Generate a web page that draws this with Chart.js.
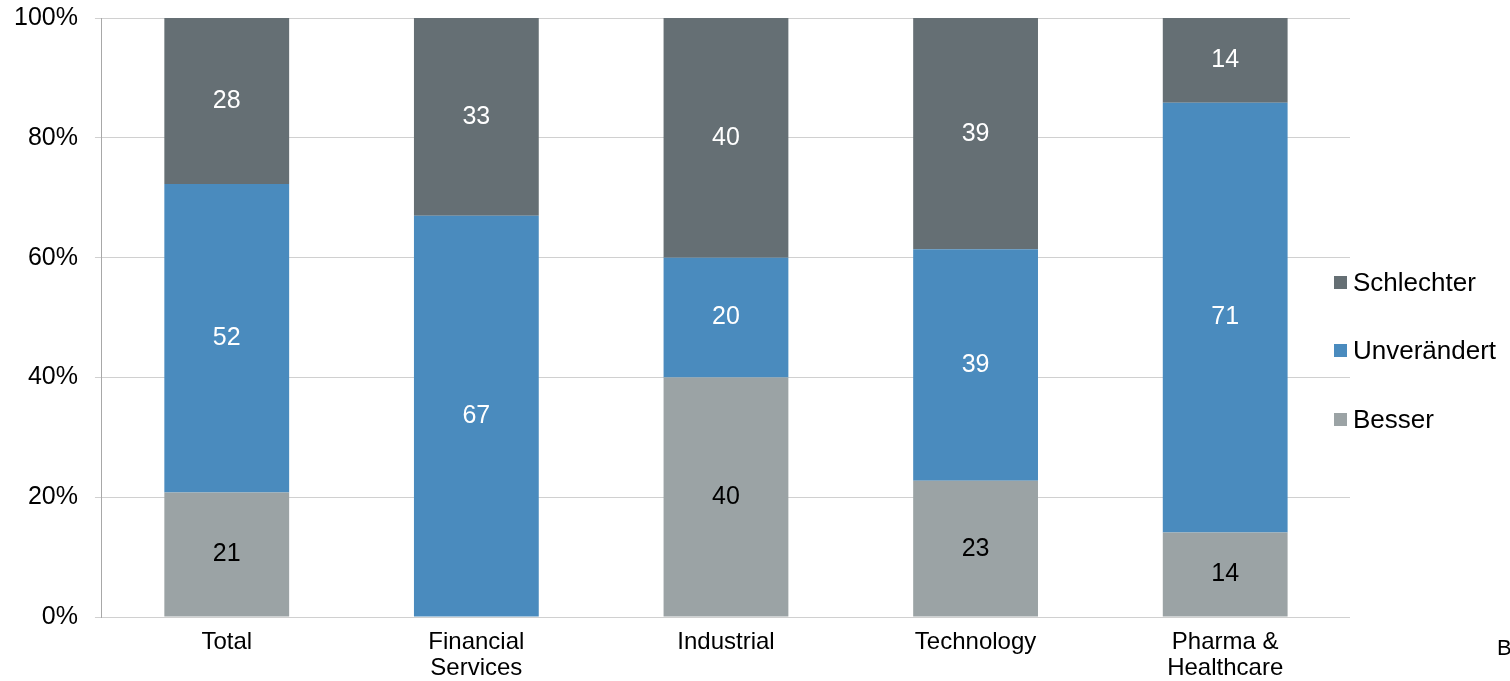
<!DOCTYPE html>
<html>
<head>
<meta charset="utf-8">
<script src="https://cdn.jsdelivr.net/npm/chart.js@4/dist/chart.umd.min.js"></script>
<style>
  html, body { margin: 0; padding: 0; background: #fff; overflow: hidden; }
  #wrap { position: relative; width: 1510px; height: 681px; overflow: hidden; font-family: "Liberation Sans", Arial, sans-serif; }
  #legend { position: absolute; left: 1334px; top: 266px; }
  .item { display: flex; align-items: center; height: 32px; margin-bottom: 36.5px; font-size: 26px; color: #000; }
  .box { width: 13px; height: 13px; margin-right: 6px; }
  #note { position: absolute; left: 1497px; top: 635px; font-size: 22px; color: #000; white-space: nowrap; }
</style>
</head>
<body>
<div id="wrap">
  <canvas id="chart" width="1510" height="681"></canvas>
  <div id="legend"></div>
  <div id="note">B</div>
</div>
<script>
const categories = ['Total', ['Financial', 'Services'], 'Industrial', 'Technology', ['Pharma &', 'Healthcare']];
const besser = [21, 0, 40, 23, 14];
const unveraendert = [52, 67, 20, 39, 71];
const schlechter = [28, 33, 40, 39, 14];
const yTicks = [0, 20, 40, 60, 80, 100];

const colors = { besser: '#9ba3a5', unv: '#4a8bbe', schl: '#656f74' };
const fontFamily = '"Liberation Sans", Arial, sans-serif';

// 100% stacked: share of each answer per category
const totals = besser.map((b, i) => b + unveraendert[i] + schlechter[i]);
const share = arr => arr.map((v, i) => v / totals[i] * 100);

const barLabels = {
  id: 'barLabels',
  afterDatasetsDraw(chart) {
    const ctx = chart.ctx;
    ctx.save();
    ctx.font = '25px ' + fontFamily;
    ctx.textAlign = 'center';
    ctx.textBaseline = 'middle';
    chart.data.datasets.forEach((ds, di) => {
      chart.getDatasetMeta(di).data.forEach((bar, i) => {
        const v = ds.raw[i];
        if (!v) return;
        ctx.fillStyle = ds.labelColor;
        ctx.fillText(v, bar.x, (bar.y + bar.base) / 2);
      });
    });
    ctx.restore();
  }
};

const chart = new Chart(document.getElementById('chart'), {
  type: 'bar',
  data: {
    labels: categories,
    datasets: [
      { label: 'Besser', data: share(besser), raw: besser, backgroundColor: colors.besser, labelColor: '#000' },
      { label: 'Unverändert', data: share(unveraendert), raw: unveraendert, backgroundColor: colors.unv, labelColor: '#fff' },
      { label: 'Schlechter', data: share(schlechter), raw: schlechter, backgroundColor: colors.schl, labelColor: '#fff' }
    ]
  },
  options: {
    responsive: false,
    animation: false,
    events: [],
    barPercentage: 0.5,
    categoryPercentage: 1,
    layout: { padding: { left: -3, right: 160, top: 0, bottom: -13 } },
    plugins: { legend: { display: false }, tooltip: { enabled: false } },
    scales: {
      x: {
        stacked: true,
        grid: { display: false, drawTicks: false, tickLength: 0 },
        border: { display: false },
        ticks: { color: '#000', padding: 13, font: { size: 24, family: fontFamily, lineHeight: 1.06 } }
      },
      y: {
        stacked: true,
        min: 0,
        max: 100,
        afterBuildTicks: axis => { axis.ticks = yTicks.map(v => ({ value: v })); },
        grid: { color: '#d0d0d0', tickLength: 7, lineWidth: 1 },
        border: { color: '#a8a8a8', width: 1 },
        ticks: {
          color: '#000',
          padding: 17,
          // small lineHeight keeps the end labels from pushing the plot inward
          font: { size: 25, family: fontFamily, lineHeight: 0.08 },
          callback: v => v + '%'
        }
      }
    }
  },
  plugins: [barLabels]
});

const legend = document.getElementById('legend');
chart.data.datasets.slice().reverse().forEach(ds => {
  const item = document.createElement('div');
  item.className = 'item';
  item.innerHTML = '<span class="box" style="background:' + ds.backgroundColor + '"></span>' + ds.label;
  legend.appendChild(item);
});
</script>
</body>
</html>
